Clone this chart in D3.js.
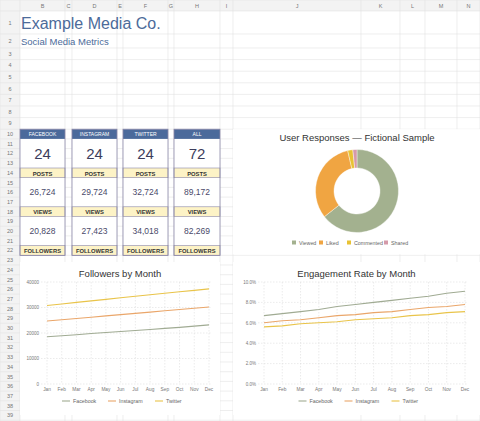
<!DOCTYPE html><html><head><meta charset="utf-8"><script src="https://d3js.org/d3.v7.min.js"></script>
<style>body{margin:0;background:#fff}svg{display:block;font-family:"Liberation Sans",Arial,sans-serif}</style></head><body><svg id="c" width="480" height="421"></svg><script>
const colLetters=["","B","C","D","E","F","G","H","I","J","K","L","M","N"];
const colEdges=[0,20,65,72,117,123,168,174,220,233,361,400,425,457,480];
const months=["Jan","Feb","Mar","Apr","May","Jun","Jul","Aug","Sep","Oct","Nov","Dec"];
const platforms=["FACEBOOK","INSTAGRAM","TWITTER","ALL"];
const posts=[24,24,24,72];
const views=["26,724","29,724","32,724","89,172"];
const followers=["20,828","27,423","34,018","82,269"];
const respLabels=["Viewed","Liked","Commented","Shared"];
const respValues=[64.4,32.0,2.0,1.6];
const respColors=["#a3b18f","#f0a542","#e8c234","#d59aa9"];
const seriesNames=["Facebook","Instagram","Twitter"];
const seriesColors=["#a0ab93","#eaa66a","#e9c44a"];
const fbFollowers=[18500,18900,19300,19800,20200,20600,21000,21400,21800,22200,22700,23200];
const igFollowers=[24700,25200,25700,26200,26700,27200,27700,28200,28700,29200,29700,30200];
const twFollowers=[30800,31400,32000,32600,33200,33800,34400,35000,35600,36200,36700,37300];
const fbRate=[6.7,6.9,7.1,7.3,7.6,7.8,8.0,8.2,8.4,8.6,8.9,9.1];
const igRate=[6.0,6.2,6.3,6.5,6.7,6.8,7.0,7.1,7.3,7.5,7.6,7.8];
const twRate=[5.6,5.7,5.9,6.0,6.1,6.3,6.4,6.5,6.7,6.8,7.0,7.1];
const followerTicks=[0,10000,20000,30000,40000];
const rateTicks=[0,2,4,6,8,10];

const svg=d3.select("#c");
const rowEdges=[0,11,34,48];
for(let i=0;i<7;i++)rowEdges.push(48+11.6*(i+1));
for(let i=0;i<30;i++)rowEdges.push(rowEdges[10]+9.7*(i+1));
const g=svg.append("g");
g.append("rect").attr("x",0).attr("y",0).attr("width",480).attr("height",11).attr("fill","#f3f3f3");
g.append("rect").attr("x",0).attr("y",0).attr("width",20).attr("height",421).attr("fill","#f3f3f3");
rowEdges.forEach(y=>g.append("line").attr("x1",0).attr("x2",480).attr("y1",y).attr("y2",y).attr("stroke","#e2e2e2").attr("stroke-width",0.6));
colEdges.forEach(x=>g.append("line").attr("x1",x).attr("x2",x).attr("y1",0).attr("y2",421).attr("stroke","#e2e2e2").attr("stroke-width",0.6));
colLetters.forEach((c,i)=>{if(!c)return;g.append("text").attr("x",(colEdges[i]+colEdges[i+1])/2).attr("y",8).attr("text-anchor","middle").attr("font-size",5.5).attr("fill","#777").text(c);});
for(let r=2;r<rowEdges.length;r++){g.append("text").attr("x",10).attr("y",(rowEdges[r-1]+rowEdges[r])/2+2).attr("text-anchor","middle").attr("font-size",5.5).attr("fill","#777").text(r-1);}
svg.append("text").attr("x",21).attr("y",29).attr("font-size",16).attr("fill","#4c6b9a").text("Example Media Co.");
svg.append("text").attr("x",21).attr("y",45).attr("font-size",9.5).attr("fill","#4c6b9a").text("Social Media Metrics");
const cardCols=[1,3,5,7];
const R=i=>rowEdges[i];
cardCols.forEach((ci,k)=>{
 const x0=colEdges[ci],x1=colEdges[ci+1],w=x1-x0,cx=(x0+x1)/2;
 const c=svg.append("g");
 c.append("rect").attr("x",x0).attr("y",R(10)).attr("width",w).attr("height",R(23)-R(10)).attr("fill","#fff");
 c.append("rect").attr("x",x0).attr("y",R(10)).attr("width",w).attr("height",R(11)-R(10)).attr("fill","#4b6a9b");
 [14,18,22].forEach(r=>c.append("rect").attr("x",x0).attr("y",R(r)).attr("width",w).attr("height",R(r+1)-R(r)).attr("fill","#fdf3c6").attr("stroke","#8a87a8").attr("stroke-width",0.6));
 c.append("rect").attr("x",x0).attr("y",R(10)).attr("width",w).attr("height",R(23)-R(10)).attr("fill","none").attr("stroke","#8a87a8").attr("stroke-width",0.8);
 c.append("text").attr("x",cx).attr("y",R(10)+7).attr("text-anchor","middle").attr("font-size",5).attr("fill","#fff").text(platforms[k]);
 c.append("text").attr("x",cx).attr("y",(R(11)+R(14))/2+5.5).attr("text-anchor","middle").attr("font-size",15).attr("fill","#3d3d5c").text(posts[k]);
 c.append("text").attr("x",cx).attr("y",(R(15)+R(18))/2+3).attr("text-anchor","middle").attr("font-size",8.5).attr("fill","#4a4a6a").text(views[k]);
 c.append("text").attr("x",cx).attr("y",(R(19)+R(22))/2+3).attr("text-anchor","middle").attr("font-size",8.5).attr("fill","#4a4a6a").text(followers[k]);
 [["POSTS",14],["VIEWS",18],["FOLLOWERS",22]].forEach(([t,r])=>c.append("text").attr("x",cx).attr("y",R(r)+7.5).attr("text-anchor","middle").attr("font-size",5.8).attr("font-weight","bold").attr("fill","#333").text(t));
});
const dp=svg.append("g");
dp.append("rect").attr("x",233).attr("y",R(10)).attr("width",247).attr("height",R(23)-R(10)-1).attr("fill","#fff");
dp.append("text").attr("x",357).attr("y",141).attr("text-anchor","middle").attr("font-size",9.5).attr("fill","#333").text("User Responses — Fictional Sample");
const pie=d3.pie().sort(null)(respValues);
const arc=d3.arc().innerRadius(23).outerRadius(41.5);
dp.append("g").attr("transform","translate(357,191)").selectAll("path").data(pie).join("path").attr("d",arc).attr("fill",(d,i)=>respColors[i]).attr("stroke","#fff").attr("stroke-width",0.4);
let lx=[292,319,347,384];
respLabels.forEach((l,i)=>{dp.append("rect").attr("x",lx[i]).attr("y",240.5).attr("width",4).attr("height",4).attr("fill",respColors[i]);dp.append("text").attr("x",lx[i]+7).attr("y",244.5).attr("font-size",5.3).attr("fill","#666").text(l);});
function lineChart(x0,w,title,data,ticks,fmt,xr){
 const p=svg.append("g");
 p.append("rect").attr("x",x0).attr("y",262).attr("width",w).attr("height",153).attr("fill","#fff");
 p.append("text").attr("x",x0+w/2).attr("y",277).attr("text-anchor","middle").attr("font-size",9.5).attr("fill","#333").text(title);
 const x=d3.scalePoint().domain(months).range(xr);
 const y=d3.scaleLinear().domain([ticks[0],ticks[ticks.length-1]]).range([384,282]);
 ticks.forEach(t=>{p.append("line").attr("x1",xr[0]-6).attr("x2",xr[1]+3).attr("y1",y(t)).attr("y2",y(t)).attr("stroke","#ddd").attr("stroke-dasharray","1.5,1.5").attr("stroke-width",0.6);
  p.append("text").attr("x",xr[0]-8).attr("y",y(t)+1.8).attr("text-anchor","end").attr("font-size",4.5).attr("fill","#777").text(fmt(t));});
 months.forEach(m=>{p.append("line").attr("x1",x(m)).attr("x2",x(m)).attr("y1",282).attr("y2",384).attr("stroke","#ddd").attr("stroke-dasharray","1.5,1.5").attr("stroke-width",0.6);
  p.append("text").attr("x",x(m)).attr("y",391).attr("text-anchor","middle").attr("font-size",4.8).attr("fill","#777").text(m);});
 const line=d3.line().x((d,i)=>x(months[i])).y(d=>y(d));
 data.forEach((s,i)=>p.append("path").attr("d",line(s)).attr("fill","none").attr("stroke",seriesColors[i]).attr("stroke-width",1.1));
 const cx=x0+w/2, offs=[-48,-2,45];
 seriesNames.forEach((n,i)=>{p.append("line").attr("x1",cx+offs[i]-10).attr("x2",cx+offs[i]-2).attr("y1",401).attr("y2",401).attr("stroke",seriesColors[i]).attr("stroke-width",1.1);
  p.append("text").attr("x",cx+offs[i]+1).attr("y",403).attr("font-size",5.3).attr("fill","#666").text(n);});
}
lineChart(20,200,"Followers by Month",[fbFollowers,igFollowers,twFollowers],followerTicks,t=>t,[47,209]);
lineChart(233,247,"Engagement Rate by Month",[fbRate,igRate,twRate],rateTicks,t=>t.toFixed(1)+"%",[264,465]);
</script></body></html>
